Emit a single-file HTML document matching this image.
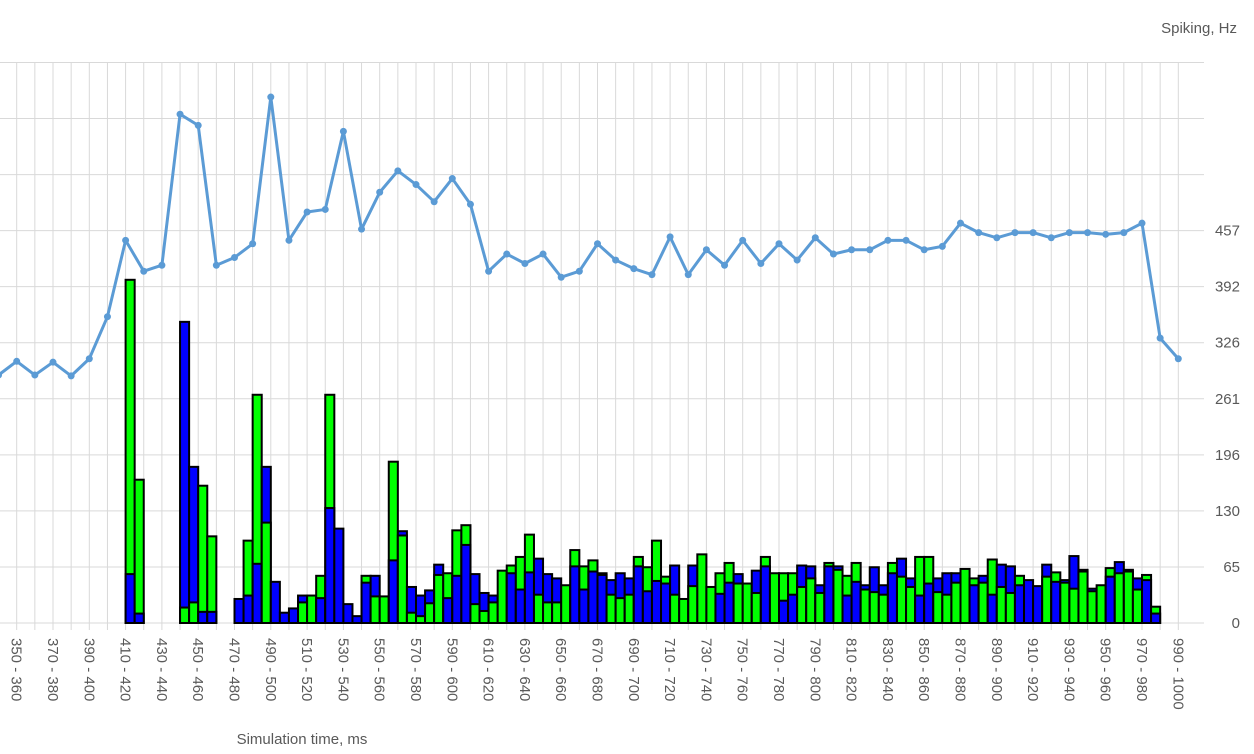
<!DOCTYPE html>
<html><head><meta charset="utf-8"><style>
html,body{margin:0;padding:0;background:#fff;}
svg{display:block;font-family:"Liberation Sans",sans-serif;}
</style></head><body>
<svg id="chart" width="1254" height="754" viewBox="0 0 1254 754" xmlns="http://www.w3.org/2000/svg">
<g id="grid"></g>
<g id="bars"></g>
<g id="line"></g>
<g id="labels"></g>
<text x="1237" y="33" text-anchor="end" font-size="15" fill="#595959">Spiking, Hz</text>
<text x="302" y="744" text-anchor="middle" font-size="15" fill="#595959">Simulation time, ms</text>
</svg>
<script>
const lineTimes = [340,350,360,370,380,390,400,410,420,430,440,450,460,470,480,490,500,510,520,530,540,550,560,570,580,590,600,610,620,630,640,650,660,670,680,690,700,710,720,730,740,750,760,770,780,790,800,810,820,830,840,850,860,870,880,890,900,910,920,930,940,950,960,970,980,990];
const lineValues = [289,305,289,304,288,308,357,446,410,417,593,580,417,426,442,613,446,479,482,573,459,502,527,511,491,518,488,410,430,419,430,403,410,442,423,413,406,450,406,435,417,446,419,442,423,449,430,435,435,446,446,435,439,466,455,449,455,455,449,455,455,453,455,466,332,308];
const barStart = 410;
const greenValues = [400,167,0,0,0,0,18,24,160,101,0,0,0,96,266,117,0,0,0,24,32,55,266,0,0,0,55,31,31,188,102,12,8,23,56,58,108,114,22,14,24,61,67,77,103,33,24,24,44,85,66,73,58,33,29,33,77,65,96,54,33,28,43,80,42,58,70,46,46,35,77,58,58,58,42,52,35,70,62,55,70,39,36,33,70,54,42,77,77,36,33,47,63,52,47,74,42,35,55,0,0,54,59,47,40,60,37,44,64,58,60,39,56,19];
const blueValues = [57,11,0,0,0,0,351,182,13,13,0,0,28,32,69,182,48,12,17,32,0,29,134,110,22,8,47,55,0,73,107,42,32,38,68,29,55,91,57,35,32,0,58,39,59,75,57,52,0,66,39,60,56,50,58,52,66,37,49,46,67,0,67,0,0,34,47,57,0,61,66,0,26,33,67,66,44,66,66,32,48,44,65,44,58,75,52,32,46,52,58,58,0,44,55,33,68,66,44,50,43,68,48,50,78,62,40,0,54,71,62,52,50,11];
const yTicks = ["0","65","130","196","261","326","392","457"];
const yStep = 65.33;

const NS = "http://www.w3.org/2000/svg";
const x0 = 16.7, pxPerMs = 1.815, yBase = 623, pxPerUnit = 0.858;
function xs(t){ return x0 + (t - 350) * pxPerMs; }
function ys(v){ return yBase - v * pxPerUnit; }
function mk(tag, attrs, parent){
  const e = document.createElementNS(NS, tag);
  for (const k in attrs) e.setAttribute(k, attrs[k]);
  parent.appendChild(e); return e;
}
const grid = document.getElementById('grid');
for (let i = 0; i <= 10; i++){
  const y = ys(i * yStep);
  const l = mk('line', {x1:0, x2:1204, y1:y, y2:y, stroke:'#d9d9d9', 'stroke-width':1}, grid);
  
  
}
for (let t = 340; t <= 990; t += 10){
  const x = xs(t);
  const l = mk('line', {x1:x, x2:x, y1:ys(10*yStep), y2:630, stroke:'#d9d9d9', 'stroke-width':1}, grid);
  
  
}
const bars = document.getElementById('bars');
const w = 5 * pxPerMs;
for (let i = 0; i < greenValues.length; i++){
  const t = barStart + 5 * i;
  const g = greenValues[i], b = blueValues[i];
  if (g <= 0 && b <= 0) continue;
  const x = xs(t);
  const items = [{v:g, c:'#00ff00', n:'bar-green'}, {v:b, c:'#0000ff', n:'bar-blue'}].filter(d => d.v > 0).sort((a, c) => c.v - a.v);
  for (const d of items){
    const r = mk('rect', {x:x, y:ys(d.v), width:w, height:d.v * pxPerUnit, fill:d.c, stroke:'#000', 'stroke-width':2}, bars);
    
    
  }
}
const lg = document.getElementById('line');
const pts = lineTimes.map((t, i) => xs(t) + ',' + ys(lineValues[i])).join(' ');
const pl = mk('polyline', {points:pts, fill:'none', stroke:'#5b9bd5', 'stroke-width':3, 'stroke-linejoin':'round'}, lg);


lineTimes.forEach((t, i) => {
  const c = mk('circle', {cx:xs(t), cy:ys(lineValues[i]), r:3.5, fill:'#5b9bd5'}, lg);
  
  
});
const lab = document.getElementById('labels');
yTicks.forEach((s, i) => {
  const tx = mk('text', {x:1240, y:ys(i * yStep) + 5, 'text-anchor':'end', 'font-size':15, fill:'#595959'}, lab);
  tx.textContent = s;
  
  
});
for (let t = 350; t <= 990; t += 20){
  const x = xs(t);
  const tx = mk('text', {x:0, y:0, transform:'translate(' + (x - 5) + ',638) rotate(90)', 'font-size':15, fill:'#595959'}, lab);
  tx.textContent = t + ' - ' + (t + 10);
  
  
}
</script>
</body></html>
